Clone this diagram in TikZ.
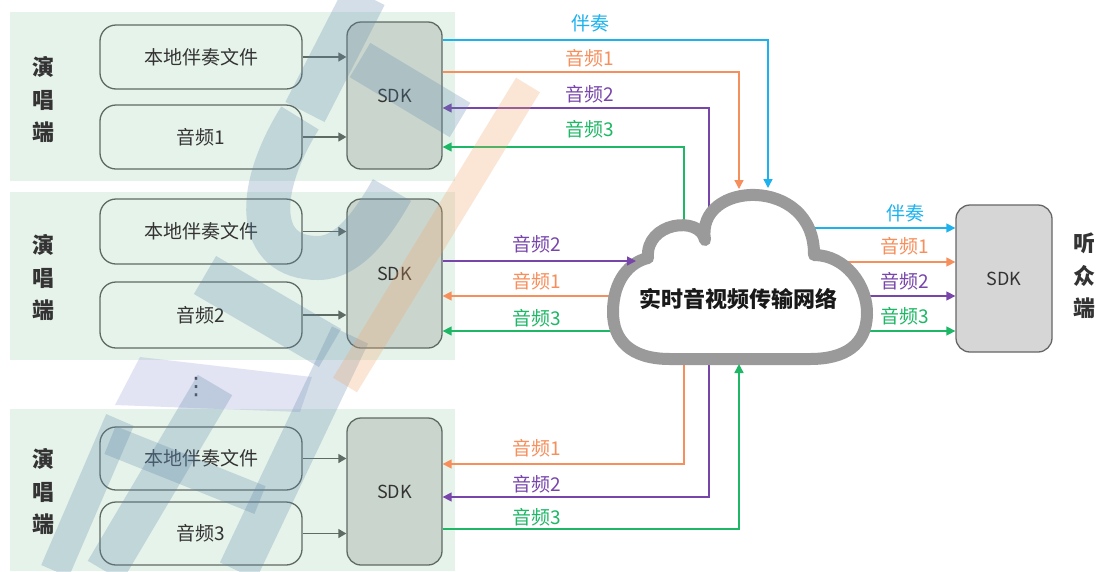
\documentclass[tikz,border=0pt]{standalone}
\usepackage{fontspec}
\setmainfont{Noto Sans CJK SC}
\newfontfamily\symfont{DejaVu Sans}
\usetikzlibrary{arrows.meta}

\definecolor{panelbg}{HTML}{E6F3EA}
\definecolor{sdkfill}{HTML}{CAD6CD}
\definecolor{sdkgray}{HTML}{D6D6D6}
\definecolor{boxline}{HTML}{5E6A64}
\definecolor{textdark}{HTML}{333333}
\definecolor{ccyan}{HTML}{1CB2EE}
\definecolor{corange}{HTML}{F68F5C}
\definecolor{cpurple}{HTML}{7846AB}
\definecolor{cgreen}{HTML}{1DB765}
\definecolor{cloudgray}{HTML}{9A9A9A}
\definecolor{wmblue}{HTML}{5F88AA}
\definecolor{wmlav}{HTML}{8E95D0}
\definecolor{wmorange}{HTML}{F2A46A}

\begin{document}
\begin{tikzpicture}[x=1pt,y=-1pt,
  panel/.style={fill=panelbg},
  srcbox/.style={draw=boxline, line width=1.3pt, rounded corners=16pt,
    minimum width=202pt, minimum height=64pt, inner sep=0pt, text=textdark,
    font=\fontsize{19}{22}\selectfont},
  sdkbox/.style={draw=boxline, fill=sdkfill, line width=1.3pt, rounded corners=14pt,
    minimum width=95pt, inner sep=0pt, text=textdark,
    font=\fontsize{18}{21}\selectfont},
  sidelbl/.style={align=center, text=textdark, inner sep=0pt,
    font=\bfseries\fontsize{22}{32.5}\selectfont},
  feed/.style={draw=boxline, line width=1.3pt, -{Triangle[length=8pt,width=9pt]}},
  flow/.style={line width=1.4pt, -{Triangle[length=9pt,width=9pt]}},
  plain/.style={line width=1.4pt},
  lbl/.style={font=\fontsize{19}{22}\selectfont, inner sep=0pt},
  wm/.style={line cap=butt, opacity=0.27, draw=wmblue},
]
\useasboundingbox (0,0) rectangle (1098,571);
\fill[white] (0,0) rectangle (1098,571);

% singer panels
\fill[panel] (10,12) rectangle (455,181);
\fill[panel] (10,192) rectangle (455,360);
\fill[panel] (10,409) rectangle (455,571);

\node[sidelbl] (side1) at (43,100) {演\\唱\\端};
\node[sidelbl] (side2) at (43,278) {演\\唱\\端};
\node[sidelbl] (side3) at (43,492) {演\\唱\\端};

\node[srcbox] (f1) at (201,57) {本地伴奏文件};
\node[srcbox] (a1) at (201,137) {音频1};
\node[sdkbox, minimum height=147pt] (s1) at (394.5,95.5) {SDK};

\node[srcbox, minimum height=65pt] (f2) at (201,231.5) {本地伴奏文件};
\node[srcbox, minimum height=66pt] (a2) at (201,315) {音频2};
\node[sdkbox, minimum height=149pt] (s2) at (394.5,273.5) {SDK};

\node[srcbox, minimum height=63pt] (f3) at (201,458.5) {本地伴奏文件};
\node[srcbox, minimum height=63pt] (a3) at (201,533.5) {音频3};
\node[sdkbox, minimum height=147pt] (s3) at (394.5,491.5) {SDK};

\node[text=textdark, inner sep=0pt, font=\symfont\fontsize{24}{24}\selectfont] (more) at (196,387) {⋮};

\foreach \b/\s in {f1/s1,a1/s1,f2/s2,a2/s2,f3/s3,a3/s3}
  \draw[feed] (\b.east) -- (\b.east -| \s.west);

% listener side
\node[sdkbox, fill=sdkgray, draw=black!60, minimum width=96pt, minimum height=147pt] (s4) at (1004,278.5) {SDK};
\node[sidelbl] (side4) at (1084,276) {听\\众\\端};

% ends of the links inside or on the cloud
\coordinate (upP) at (709,240);
\coordinate (upG) at (684,255);
\coordinate (midO) at (645,296);
\coordinate (midG) at (645,331);
\coordinate (dnO) at (684,340);
\coordinate (dnP) at (709,340);
\coordinate (rtC) at (800,228);
\coordinate (rtO) at (825,262);
\coordinate (rtP) at (850,296);
\coordinate (rtG) at (850,331);
\coordinate (inC) at (768,188);
\coordinate (inO) at (739,189);
\coordinate (inP) at (636,261);
\coordinate (inG) at (739,364);

% links leaving the cloud
\draw[flow, cpurple] (upP) |- (s1.east |- 0,108);
\draw[flow, cgreen] (upG) |- (s1.east |- 0,147);
\draw[flow, corange] (midO) -- (s2.east |- 0,296);
\draw[flow, cgreen] (midG) -- (s2.east |- 0,331);
\draw[flow, corange] (dnO) |- (s3.east |- 0,464);
\draw[flow, cpurple] (dnP) |- (s3.east |- 0,497);
\draw[flow, ccyan] (rtC) -- (rtC -| s4.west);
\draw[flow, corange] (rtO) -- (rtO -| s4.west);
\draw[flow, cpurple] (rtP) -- (rtP -| s4.west);
\draw[flow, cgreen] (rtG) -- (rtG -| s4.west);

% the network cloud
\draw[cloudgray, line width=12pt, line join=round, fill=white]
  (648,258) .. controls (645,222) and (700,215) .. (705,240)
  .. controls (695,180) and (815,175) .. (814,255)
  .. controls (845,255) and (868,285) .. (867,315)
  .. controls (866,345) and (845,359) .. (810,359)
  -- (670,359)
  .. controls (630,359) and (613,340) .. (613,312)
  .. controls (613,280) and (630,262) .. cycle;
\node[font=\bfseries\fontsize{22}{24}\selectfont, text=black!90] (net) at (738,299) {实时音视频传输网络};

% links entering the cloud
\draw[flow, ccyan] (s1.east |- 0,40) -| (inC);
\draw[flow, corange] (s1.east |- 0,72) -| (inO);
\draw[flow, cpurple] (s2.east |- 0,261) -- (inP);
\draw[flow, cgreen] (s3.east |- 0,529) -| (inG);

% link labels
\node[lbl, text=ccyan] (l1) at (590,23) {伴奏};
\node[lbl, text=corange] (l2) at (590,58) {音频1};
\node[lbl, text=cpurple] (l3) at (590,94) {音频2};
\node[lbl, text=cgreen] (l4) at (590,129) {音频3};
\node[lbl, text=cpurple] (l5) at (537,244) {音频2};
\node[lbl, text=corange] (l6) at (537,281) {音频1};
\node[lbl, text=cgreen] (l7) at (537,318) {音频3};
\node[lbl, text=corange] (l8) at (537,448) {音频1};
\node[lbl, text=cpurple] (l9) at (537,484) {音频2};
\node[lbl, text=cgreen] (l10) at (537,517) {音频3};
\node[lbl, text=ccyan] (l11) at (905,213) {伴奏};
\node[lbl, text=corange] (l12) at (905,246) {音频1};
\node[lbl, text=cpurple] (l13) at (905,281) {音频2};
\node[lbl, text=cgreen] (l14) at (905,316) {音频3};

% translucent logo strokes over the left half
\draw[wm, line width=44pt] (365,-5) -- (305,112);
\draw[wm, line width=40pt] (360,60) -- (460,120);
\draw[wm, line width=44pt] (300,118) .. controls (255,190) and (255,258) .. (318,258)
  .. controls (350,258) and (375,220) .. (392,190);
\draw[wm, line width=44pt] (205,275) -- (330,348);
\fill[wmlav, opacity=0.25] (140,357) -- (312,377) -- (300,412) -- (115,405) -- cycle;
\draw[wm, line width=40pt] (215,385) -- (105,571);
\draw[wm, line width=40pt] (350,335) -- (238,571);
\draw[wm, line width=30pt] (120,420) -- (55,571);
\draw[wm, line width=30pt] (110,440) -- (260,500);
\draw[wm, draw=wmorange, line width=28pt] (528,85) -- (345,385);
\end{tikzpicture}
\end{document}
